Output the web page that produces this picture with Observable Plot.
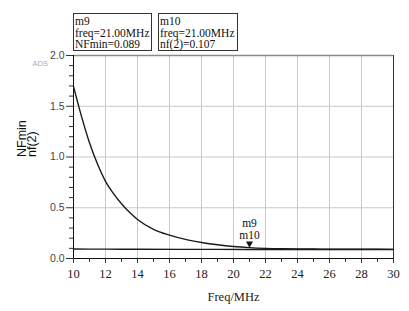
<!DOCTYPE html>
<html>
<head>
<meta charset="utf-8">
<script src="https://cdn.jsdelivr.net/npm/d3@7"></script>
<script src="https://cdn.jsdelivr.net/npm/@observablehq/plot@0.6"></script>
<style>
  html, body { margin: 0; padding: 0; background: #fff; }
  #chart svg { display: block; }
</style>
</head>
<body>
<div id="chart"></div>
<script>
// ---- data ----
const nf2Freq = [10, 10.5, 11, 11.5, 12, 12.5, 13, 13.5, 14, 15, 16, 17, 18, 19, 20, 21, 22, 23, 24, 25, 26, 28, 30];
const nf2     = [1.695, 1.40, 1.14, 0.93, 0.76, 0.64, 0.54, 0.455, 0.385, 0.288, 0.23, 0.188, 0.158, 0.135, 0.118, 0.107, 0.100, 0.096, 0.094, 0.093, 0.092, 0.091, 0.090];
const nfminFreq = [10, 12, 14, 17, 21, 25, 30];
const nfmin     = [0.093, 0.092, 0.091, 0.090, 0.089, 0.088, 0.088];

const xMajorTicks = [10, 12, 14, 16, 18, 20, 22, 24, 26, 28, 30];
const xMinorTicks = [11, 13, 15, 17, 19, 21, 23, 25, 27, 29];
const yMajorTicks = [0, 0.5, 1.0, 1.5, 2.0];
const yMinorTicks = [0.1,0.2,0.3,0.4,0.6,0.7,0.8,0.9,1.1,1.2,1.3,1.4,1.6,1.7,1.8,1.9];

const markerNames  = ["m9", "m10"];
const markerVars   = ["NFmin", "nf(2)"];
const markerFreq   = [21, 21];
const markerValues = [0.089, 0.107];

const xLabel = "Freq/MHz";
const yLabelLines = ["NFmin", "nf(2)"];
const watermark = "ADS";

// ---- build tables ----
const nf2Data = nf2Freq.map((f, i) => ({f, v: nf2[i]}));
const nfminData = nfminFreq.map((f, i) => ({f, v: nfmin[i]}));
const markers = markerNames.map((n, i) => ({name: n, varName: markerVars[i], f: markerFreq[i], v: markerValues[i]}));
const shownMarker = markers.filter(d => d.name === "m10");

const serif = "Liberation Serif";
const sans = "Liberation Sans";

const plot = Plot.plot({
  width: 409,
  height: 311,
  marginLeft: 73,
  marginRight: 16,
  marginTop: 55,
  marginBottom: 53,
  x: {domain: [10, 30]},
  y: {domain: [0, 2]},
  marks: [
    Plot.gridX(xMajorTicks.filter(d => d > 10 && d < 30), {stroke: "#c8c8c8", strokeOpacity: 1}),
    Plot.gridY(yMajorTicks.filter(d => d > 0 && d < 2), {stroke: "#c8c8c8", strokeOpacity: 1}),
    Plot.ruleY([2], {stroke: "#8a8a8a", strokeWidth: 1.6}),
    Plot.ruleX([30], {stroke: "#333", strokeWidth: 1}),
    Plot.ruleX([10], {stroke: "#111", strokeWidth: 1}),
    Plot.ruleY([0], {stroke: "#111", strokeWidth: 1}),
    Plot.line(nfminData, {x: "f", y: "v", stroke: "#1a1a1a", strokeWidth: 1.4, curve: "monotone-x"}),
    Plot.line(nf2Data, {x: "f", y: "v", stroke: "#1a1a1a", strokeWidth: 1.4, curve: "monotone-x"}),
    Plot.axisY(yMajorTicks, {tickSize: 7, tickPadding: 2, tickFormat: d3.format(".1f"), fontSize: 10.5, fill: "#444", stroke: "#333", label: null}),
    Plot.axisY(yMinorTicks, {tickSize: 4, text: null, stroke: "#333", label: null}),
    Plot.axisX(xMajorTicks, {tickSize: 5, tickPadding: 6, fontSize: 12.5, fill: "#222", stroke: "#333", label: null}),
    Plot.axisX(xMinorTicks, {tickSize: 4, text: null, stroke: "#333", label: null}),
    Plot.text([xLabel], {frameAnchor: "bottom", dy: 38, lineAnchor: "middle", fontSize: 12.5, fill: "#222"}),
    Plot.text([yLabelLines.join("\n")], {frameAnchor: "left", dx: -46, rotate: -90, lineAnchor: "middle", lineHeight: 0.85, fontSize: 12.5, fill: "#111"}),
    Plot.text([watermark], {frameAnchor: "top-left", dx: -41, dy: 8, lineAnchor: "middle", fontSize: 7.5, fill: "#aaa"}),
    Plot.dot(shownMarker, {x: "f", y: "v", symbol: "triangle", rotate: 180, r: 2.6, dy: -4, fill: "#111", stroke: "none"}),
    Plot.text(shownMarker, {x: "f", y: "v", text: () => markerNames[0], dy: -24, lineAnchor: "middle", fontSize: 11.5, fill: "#111"}),
    Plot.text(shownMarker, {x: "f", y: "v", text: () => markerNames[1], dy: -12.5, lineAnchor: "middle", fontSize: 11.5, fill: "#111"})
  ]
});

// font families: serif for everything except y tick labels, y title and watermark
const svgSel = d3.select(plot);
svgSel.attr("font-family", serif).style("background", "#fff");
const sansTexts = new Set(yMajorTicks.map(d3.format(".1f")).concat([watermark]));
svgSel.selectAll("text, tspan").each(function() {
  const el = d3.select(this);
  const t = this.textContent;
  const isSans = sansTexts.has(t) || t.includes(yLabelLines[0]) || yLabelLines.includes(t);
  el.style("font-family", isSans ? sans : serif);
});

// marker readout boxes above the plot
const boxLeft = [73.5, 158.5];
const boxWidth = [78, 79];
const g = svgSel.append("g").attr("text-anchor", "start");
markers.forEach((m, i) => {
  g.append("rect")
    .attr("x", boxLeft[i]).attr("y", 13.5)
    .attr("width", boxWidth[i]).attr("height", 37)
    .attr("fill", "#fff").attr("stroke", "#333").attr("stroke-width", 1);
  const lines = [m.name, `freq=${m.f.toFixed(2)}MHz`, `${m.varName}=${m.v.toFixed(3)}`];
  lines.forEach((t, j) => {
    g.append("text")
      .attr("x", boxLeft[i] + 1.5)
      .attr("y", 25 + j * 11.5)
      .attr("text-anchor", "start")
      .style("font-family", serif)
      .attr("font-size", 11.5)
      .attr("fill", "#111")
      .text(t);
  });
});

document.getElementById("chart").appendChild(plot);
</script>
</body>
</html>
